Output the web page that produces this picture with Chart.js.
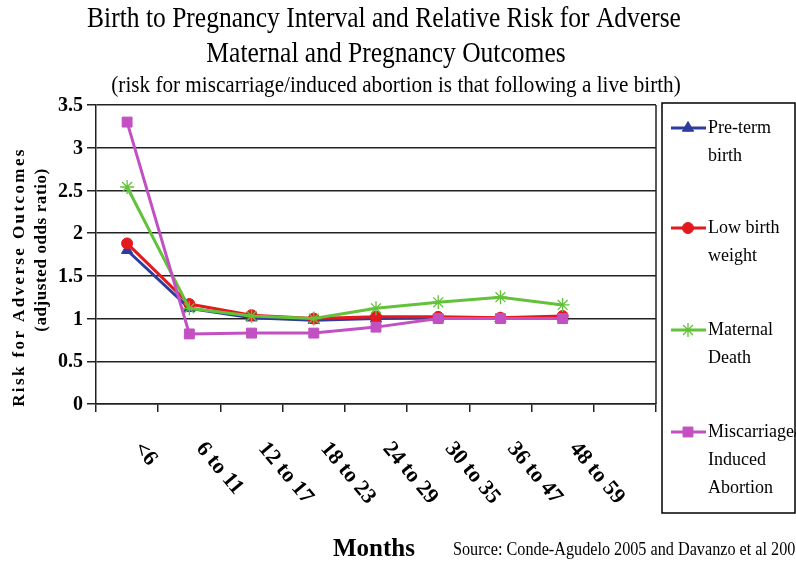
<!DOCTYPE html>
<html>
<head>
<meta charset="utf-8">
<script src="https://cdn.jsdelivr.net/npm/chart.js@4"></script>
<style>
  body { margin: 0; background: #fff; }
  #wrap { width: 796px; height: 566px; }
</style>
</head>
<body>
<div id="wrap"><canvas id="chart" width="796" height="566"></canvas></div>
<script>
// Data
const categories = ['<6', '6 to 11', '12 to 17', '18 to 23', '24 to 29', '30 to 35', '36 to 47', '48 to 59', ''];
const pretermBirth = [1.80, 1.12, 1.01, 0.98, 1.00, 1.01, 1.00, 1.02];
const lowBirthWeight = [1.88, 1.17, 1.04, 1.00, 1.02, 1.02, 1.01, 1.03];
const maternalDeath = [2.54, 1.12, 1.03, 1.00, 1.12, 1.19, 1.25, 1.16];
const miscarriage = [3.30, 0.82, 0.83, 0.83, 0.90, 1.00, 1.00, 1.00];
const yTicks = [0, 0.5, 1, 1.5, 2, 2.5, 3, 3.5];

const serif = '"Liberation Serif", "Times New Roman", serif';

const legendItems = [
    { lines: ['Pre-term', 'birth'], y: 128 },
    { lines: ['Low birth', 'weight'], y: 228 },
    { lines: ['Maternal', 'Death'], y: 330 },
    { lines: ['Miscarriage/', 'Induced', 'Abortion'], y: 432 }
];

// draws titles, axis labels, legend and the plot's right edge
const decorations = {
    id: 'decorations',
    afterDraw(chart) {
        const ctx = chart.ctx;
        const area = chart.chartArea;
        const xScale = chart.scales.x;
        const yScale = chart.scales.y;
        ctx.save();
        ctx.fillStyle = '#000';

        // right border of the plot
        ctx.strokeStyle = '#222';
        ctx.lineWidth = 1.5;
        ctx.beginPath();
        ctx.moveTo(area.right, area.top);
        ctx.lineTo(area.right, area.bottom);
        ctx.stroke();

        // text squeezed a little, like the source
        function condensed(text, x, baseY, font, sx, align) {
            ctx.save();
            ctx.font = font;
            ctx.textAlign = align || 'center';
            ctx.textBaseline = 'alphabetic';
            ctx.translate(x, baseY);
            ctx.scale(sx, 1);
            ctx.fillText(text, 0, 0);
            ctx.restore();
        }
        condensed('Birth to Pregnancy Interval and Relative Risk for Adverse', 384, 27, '29px ' + serif, 0.88);
        condensed('Maternal and Pregnancy Outcomes', 386, 62, '29px ' + serif, 0.88);
        condensed('(risk for miscarriage/induced abortion is that following a live birth)', 396, 92, '23px ' + serif, 0.92);

        // y tick labels
        ctx.font = 'bold 20px ' + serif;
        ctx.textAlign = 'right';
        ctx.textBaseline = 'middle';
        yTicks.forEach(v => {
            ctx.fillText(String(v), 83, yScale.getPixelForValue(v) + 1);
        });

        // y axis title, two rotated lines
        ctx.save();
        ctx.translate(20, 277);
        ctx.rotate(-Math.PI / 2);
        ctx.font = 'bold 17px ' + serif;
        ctx.letterSpacing = '2.4px';
        ctx.textAlign = 'center';
        ctx.textBaseline = 'middle';
        ctx.fillText('Risk for Adverse Outcomes', 0, 0);
        ctx.restore();
        ctx.save();
        ctx.translate(42, 250);
        ctx.rotate(-Math.PI / 2);
        ctx.font = 'bold 17px ' + serif;
        ctx.letterSpacing = '0.6px';
        ctx.textAlign = 'center';
        ctx.textBaseline = 'middle';
        ctx.fillText('(adjusted odds ratio)', 0, 0);
        ctx.restore();

        // x category labels, turned down to the right
        ctx.font = 'bold 22px ' + serif;
        ctx.textAlign = 'left';
        ctx.textBaseline = 'top';
        categories.forEach((c, i) => {
            if (!c) return;
            const px = xScale.getPixelForValue(i);
            ctx.save();
            ctx.translate(px + 19, 438);
            ctx.rotate(50 * Math.PI / 180);
            ctx.fillText(c, 0, 0);
            ctx.restore();
        });

        // x axis title and source note
        ctx.textBaseline = 'alphabetic';
        ctx.font = 'bold 25px ' + serif;
        ctx.textAlign = 'left';
        ctx.fillText('Months', 333, 556);
        condensed('Source: Conde-Agudelo 2005 and Davanzo et al 2007', 453, 555, '18px ' + serif, 0.9, 'left');

        // legend box
        ctx.strokeStyle = '#000';
        ctx.lineWidth = 1.5;
        ctx.strokeRect(662, 103, 133, 410);
        legendItems.forEach((item, i) => {
            const ds = chart.data.datasets[i];
            ctx.strokeStyle = ds.borderColor;
            ctx.lineWidth = 3;
            ctx.beginPath();
            ctx.moveTo(671, item.y);
            ctx.lineTo(706, item.y);
            ctx.stroke();
            ctx.fillStyle = ds.pointBackgroundColor;
            ctx.strokeStyle = ds.pointBorderColor;
            ctx.lineWidth = ds.pointBorderWidth;
            Chart.helpers.drawPoint(ctx, {
                pointStyle: ds.pointStyle,
                radius: ds.pointRadius,
                rotation: 0,
                borderWidth: ds.pointBorderWidth
            }, 688, item.y);
            ctx.fillStyle = '#000';
            ctx.font = '18px ' + serif;
            ctx.textAlign = 'left';
            ctx.textBaseline = 'middle';
            item.lines.forEach((t, j) => {
                ctx.fillText(t, 708, item.y + j * 28);
            });
        });
        ctx.restore();
    }
};

function series(label, data, color, style, radius, order) {
    return {
        label: label,
        data: data,
        borderColor: color,
        backgroundColor: color,
        pointBackgroundColor: color,
        pointBorderColor: color,
        pointStyle: style,
        pointRadius: radius,
        pointBorderWidth: style === 'star' ? 1.3 : 1,
        borderWidth: 3,
        tension: 0,
        order: order
    };
}

const chart = new Chart(document.getElementById('chart'), {
    type: 'line',
    data: {
        labels: categories,
        datasets: [
            series('Pre-term birth', pretermBirth, '#2E3C9E', 'triangle', 6.5, 3),
            series('Low birth weight', lowBirthWeight, '#E3191F', 'circle', 5.5, 2),
            series('Maternal Death', maternalDeath, '#62C23A', 'star', 7, 1),
            series('Miscarriage/ Induced Abortion', miscarriage, '#C250C2', 'rect', 7, 0)
        ]
    },
    options: {
        responsive: false,
        animation: false,
        layout: { padding: { left: 87, top: 105, right: 140, bottom: 154 } },
        plugins: {
            legend: { display: false },
            title: { display: false },
            tooltip: { enabled: false }
        },
        scales: {
            x: {
                offset: true,
                grid: {
                    offset: true,
                    drawOnChartArea: false,
                    drawTicks: true,
                    tickLength: 8,
                    color: '#222',
                    lineWidth: 1.5
                },
                border: { display: true, color: '#222', width: 1.5 },
                ticks: { display: false }
            },
            y: {
                min: 0,
                max: 3.5,
                ticks: { display: false, stepSize: 0.5 },
                grid: {
                    color: '#222',
                    lineWidth: 1.5,
                    tickLength: 9,
                    drawTicks: true
                },
                border: { display: true, color: '#222', width: 1.5 }
            }
        }
    },
    plugins: [decorations]
});
</script>
</body>
</html>
